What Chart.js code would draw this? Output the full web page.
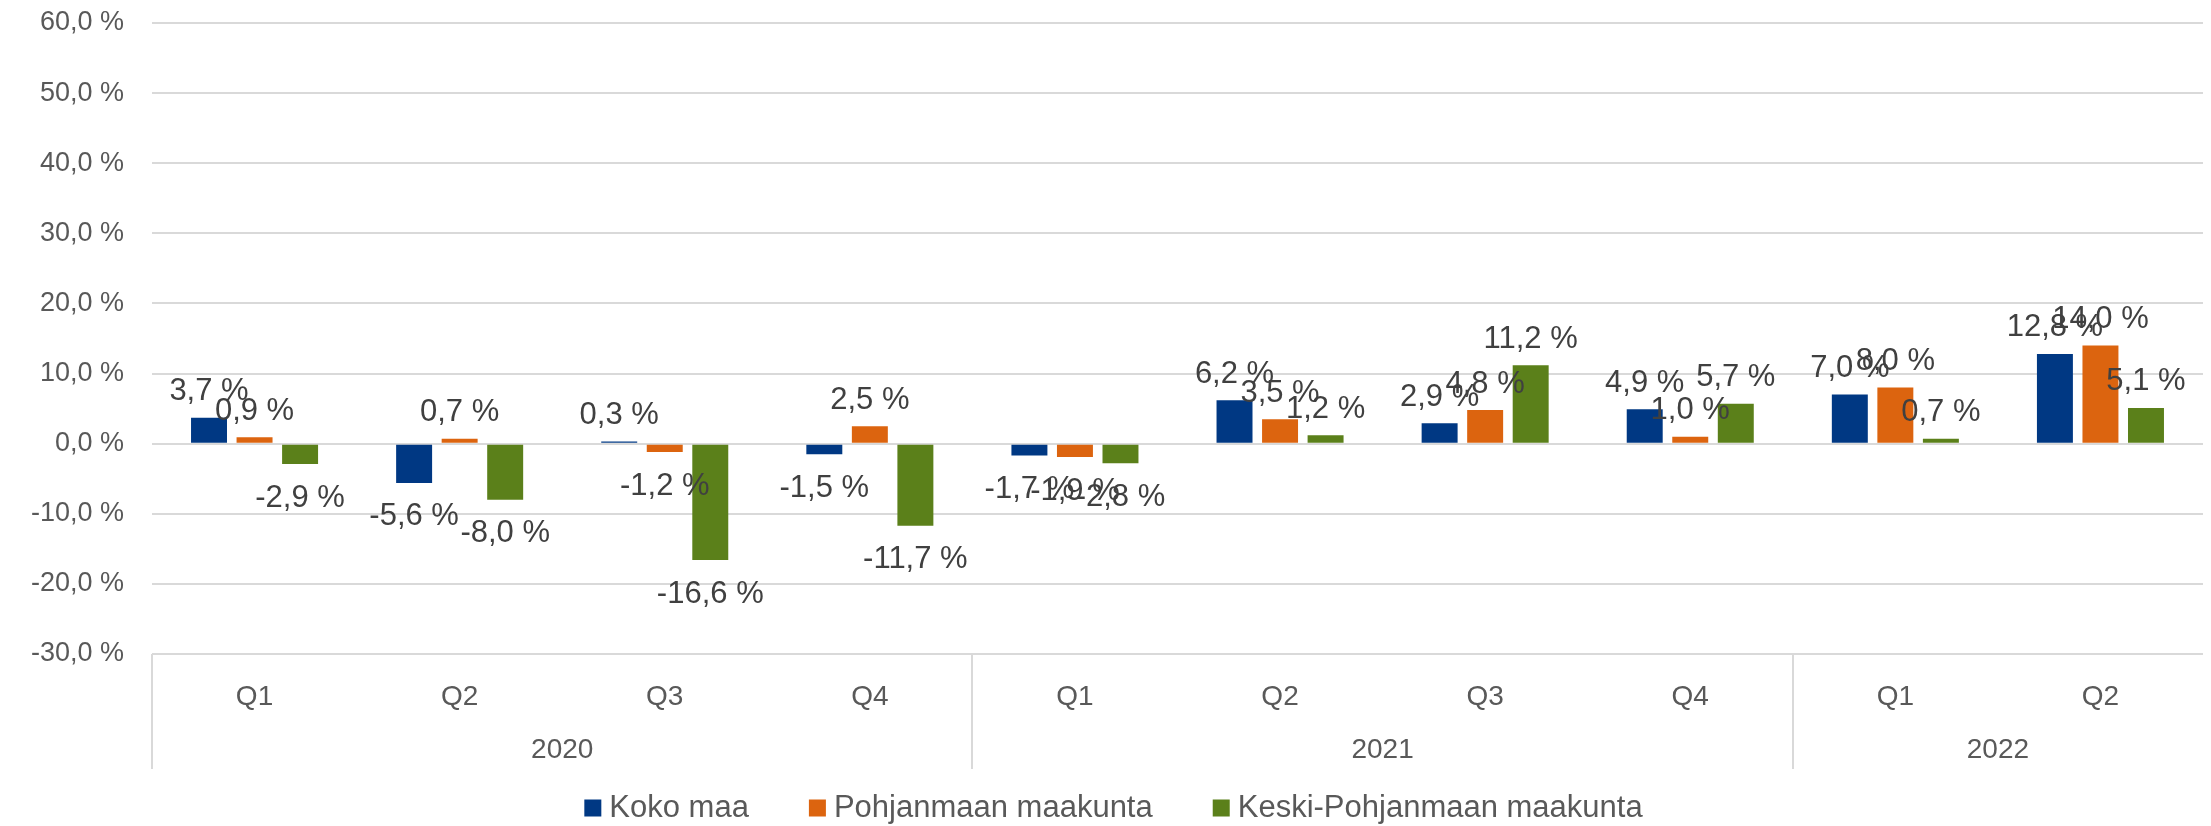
<!DOCTYPE html>
<html>
<head>
<meta charset="utf-8">
<script src="https://cdn.jsdelivr.net/npm/chart.js@4/dist/chart.umd.min.js"></script>
<style>
  html, body { margin: 0; padding: 0; background: #ffffff; }
  #wrap { width: 2211px; height: 826px; position: relative; }
</style>
</head>
<body>
<div id="wrap"><canvas id="salesChart"></canvas></div>
<script>
// quarters on the lower axis, years grouped underneath
const quarters = ["Q1", "Q2", "Q3", "Q4", "Q1", "Q2", "Q3", "Q4", "Q1", "Q2"];
const yearLabels = ["2020", "2021", "2022"];
const yearSpans = [4, 4, 2];

// series values (%)
const kokoMaa = [3.7, -5.6, 0.3, -1.5, -1.7, 6.2, 2.9, 4.9, 7.0, 12.8];
const pohjanmaa = [0.9, 0.7, -1.2, 2.5, -1.9, 3.5, 4.8, 1.0, 8.0, 14.0];
const keskiPohjanmaa = [-2.9, -8.0, -16.6, -11.7, -2.8, 1.2, 11.2, 5.7, 0.7, 5.1];

const seriesNames = ["Koko maa", "Pohjanmaan maakunta", "Keski-Pohjanmaan maakunta"];
const seriesColors = ["#003883", "#dc640f", "#5b801a"];

const FONT = "'Liberation Sans', Arial, sans-serif";
const fmt = v => v.toFixed(1).replace(".", ",") + " %";

// draws value labels, the year row, separators and the legend
const excelExtras = {
    id: "excelExtras",
    afterDatasetsDraw(chart) {
        const ctx = chart.ctx;
        const x = chart.scales.x;
        const area = chart.chartArea;

        // value labels at the outside end of each bar
        ctx.save();
        ctx.font = "31px " + FONT;
        ctx.fillStyle = "#404040";
        ctx.textAlign = "center";
        ctx.textBaseline = "middle";
        chart.data.datasets.forEach((ds, di) => {
            chart.getDatasetMeta(di).data.forEach((bar, i) => {
                const v = ds.data[i];
                const y = v >= 0 ? bar.y - 26 : bar.y + 34;
                ctx.fillText(fmt(v), bar.x, y);
            });
        });
        ctx.restore();

        // year row and group separators
        const catW = x.getPixelForValue(1) - x.getPixelForValue(0);
        ctx.save();
        ctx.strokeStyle = "#d9d9d9";
        ctx.lineWidth = 2;
        ctx.font = "28px " + FONT;
        ctx.fillStyle = "#595959";
        ctx.textAlign = "center";
        ctx.textBaseline = "middle";
        let start = 0;
        yearLabels.forEach((yl, gi) => {
            const left = x.getPixelForValue(start) - catW / 2;
            const right = x.getPixelForValue(start + yearSpans[gi] - 1) + catW / 2;
            ctx.beginPath();
            ctx.moveTo(Math.round(left), area.bottom);
            ctx.lineTo(Math.round(left), area.bottom + 115);
            ctx.stroke();
            ctx.fillText(yl, (left + right) / 2, area.bottom + 96);
            start += yearSpans[gi];
        });
        ctx.restore();

        // legend
        ctx.save();
        ctx.font = "31px " + FONT;
        ctx.textBaseline = "middle";
        const box = 17, gap = 8, spacing = 60;
        const widths = seriesNames.map(n => ctx.measureText(n).width);
        const total = widths.reduce((a, w) => a + box + gap + w, 0) + spacing * (seriesNames.length - 1);
        let lx = chart.width / 2 + 8 - total / 2;
        const ly = 808;
        seriesNames.forEach((n, i) => {
            ctx.fillStyle = seriesColors[i];
            ctx.fillRect(lx, ly - box / 2, box, box);
            ctx.fillStyle = "#595959";
            ctx.fillText(n, lx + box + gap, ly);
            lx += box + gap + widths[i] + spacing;
        });
        ctx.restore();
    }
};

document.addEventListener("DOMContentLoaded", () => {
    const ctx = document.getElementById("salesChart").getContext("2d");
    const values = [kokoMaa, pohjanmaa, keskiPohjanmaa];
    new Chart(ctx, {
        type: "bar",
        data: {
            labels: quarters,
            datasets: values.map((d, i) => ({
                label: seriesNames[i],
                data: d,
                backgroundColor: seriesColors[i],
                borderWidth: 0,
                categoryPercentage: 0.666,
                barPercentage: 0.79
            }))
        },
        options: {
            responsive: true,
            maintainAspectRatio: false,
            animation: false,
            layout: { padding: { top: 23, right: 8, left: 0, bottom: 0 } },
            plugins: {
                legend: { display: false },
                tooltip: { enabled: false }
            },
            scales: {
                x: {
                    grid: { display: false },
                    border: { display: false },
                    ticks: {
                        font: { family: FONT, size: 28 },
                        color: "#595959",
                        padding: 18,
                        maxRotation: 0,
                        autoSkip: false
                    },
                    afterFit: axis => { axis.height = 172; }
                },
                y: {
                    min: -30,
                    max: 60,
                    border: { display: false },
                    // invisible tick marks push the labels away from the plot
                    grid: { color: "#d9d9d9", lineWidth: 2, drawTicks: true, tickLength: 28, tickColor: "rgba(0,0,0,0)" },
                    ticks: {
                        stepSize: 10,
                        font: { family: FONT, size: 27 },
                        color: "#595959",
                        padding: 0,
                        callback: v => fmt(v)
                    },
                    afterFit: axis => { axis.width = 152; }
                }
            }
        },
        plugins: [excelExtras]
    });
});
</script>
</body>
</html>
